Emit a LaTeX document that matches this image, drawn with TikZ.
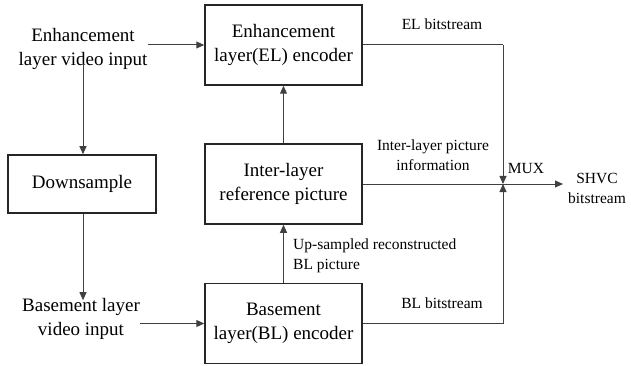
\documentclass[tikz,border=0pt]{standalone}
\usepackage{fontspec}
\setmainfont{Liberation Serif}
\usetikzlibrary{arrows.meta}
\begin{document}
\begin{tikzpicture}[x=1pt,y=-1pt,
  blk/.style={draw=black!85, line width=1.5pt, minimum width=157pt, inner sep=0pt,
    align=center, font=\fontsize{19}{24}\selectfont},
  txt/.style={inner sep=0pt, align=center, font=\fontsize{19}{24}\selectfont},
  lbl/.style={inner sep=0pt, align=center, font=\fontsize{15.5}{20}\selectfont},
  arr/.style={draw=black!75, line width=1pt, -{Triangle[length=8pt,width=7pt]}},
  ln/.style={draw=black!75, line width=1pt}]
\useasboundingbox (0,0) rectangle (631,366);

% processing blocks
\node[blk, minimum height=80pt] (el) at (283.5,45) {Enhancement\\layer(EL) encoder};
\node[blk, minimum height=80pt] (il) at (283.5,184) {Inter-layer\\reference picture};
\node[blk, minimum height=80pt] (bl) at (283.5,323.5) {Basement\\layer(BL) encoder};
\node[blk, minimum width=148pt, minimum height=58pt] (down) at (82,184) {Downsample};

% inputs
\node[txt] (elin) at (83,49) {Enhancement\\layer video input};
\node[txt] (blin) at (81,319) {Basement layer\\video input};

% multiplexer junction and output end
\coordinate (mux) at (503,184);
\coordinate (out) at (563,184);
\coordinate (elc) at (503,45);
\coordinate (blc) at (503,323.5);

% input paths
\draw[arr] (elin.east |- el.west) -- (el.west);
\draw[arr] ([yshift=6pt]elin.south) -- (elin.south |- down.north);
\draw[arr] (elin.south |- down.south) -- ([yshift=-2pt]elin.south |- blin.north);
\draw[arr] (blin.east |- 0,323.5) -- (bl.west);

% inter-layer prediction
\draw[arr] (bl.north) -- (il.south);
\draw[arr] (il.north) -- (el.south);

% bitstreams into the multiplexer
\draw[ln] (el.east) -- (elc);
\draw[arr] (elc) -- (mux);
\draw[ln] (bl.east) -- (blc);
\draw[arr] (blc) -- (mux);
\draw[arr] (il.east) -- (out);

% labels
\node[lbl] (elbs) at (442,24) {EL bitstream};
\node[lbl] (ilinfo) at (433,155) {Inter-layer picture\\information};
\node[lbl] (muxl) at (526,169) {MUX};
\node[lbl] (shvc) at (597,188) {SHVC\\bitstream};
\node[lbl] (blbs) at (442,303) {BL bitstream};
\node[lbl, align=left, anchor=west] (up) at (293,256) {Up-sampled reconstructed\\BL picture};
\end{tikzpicture}
\end{document}
